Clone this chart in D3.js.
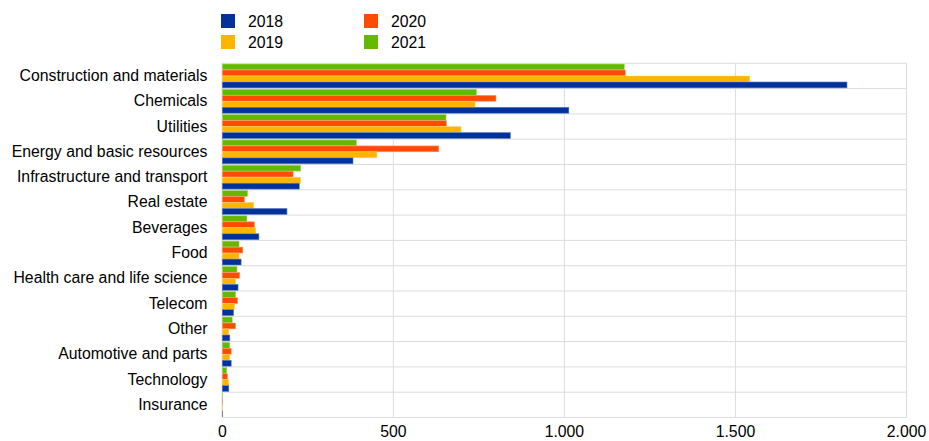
<!DOCTYPE html>
<html><head><meta charset="utf-8">
<script src="https://cdn.jsdelivr.net/npm/d3@7"></script>
<style>body{margin:0;background:#fff}svg{display:block}text{font-family:Arial,"Liberation Sans",sans-serif;fill:#000}</style>
</head><body><svg id="c" width="929" height="441"></svg>
<script>
const categories = ["Construction and materials","Chemicals","Utilities","Energy and basic resources","Infrastructure and transport","Real estate","Beverages","Food ","Health care and life science","Telecom","Other","Automotive and parts","Technology","Insurance"];
const seriesNames = ["2021","2020","2019","2018"];
const v2018 = [1826,1013,842,382,225,189,107,55,46,33,22,26,19,1];
const v2019 = [1542,739,698,452,229,92,98,49,39,36,19,22,19,1];
const v2020 = [1178,800,655,633,207,65,94,60,51,45,39,26,15,1];
const v2021 = [1175,743,654,392,229,74,72,49,43,39,29,22,13,1];
const xTicks = [0,500,1000,1500,2000];
const legendOrder = ["2018","2019","2020","2021"];
const colors = {"2018":"#003299","2019":"#FFB400","2020":"#FF4B00","2021":"#65B800"};
const strokes = {"2018":"#5a7bc4","2019":"#ffd36b","2020":"#ff9a70","2021":"#a8d96a"};
const valuesBy = {"2018":v2018,"2019":v2019,"2020":v2020,"2021":v2021};

const svg = d3.select("#c");
const m = {l:222.3, r:906.5, t:63.3, b:417.5};
const x = d3.scaleLinear().domain([0,2000]).range([m.l,m.r]);
const y = d3.scaleBand().domain(categories).range([m.t,m.b]).paddingInner(0).paddingOuter(0);
const yi = d3.scaleBand().domain(seriesNames).range([0,y.bandwidth()]).paddingOuter(0.12).paddingInner(0.02);

const fmt = v => d3.format(",")(v).replace(/,/g,".");

const g = svg.append("g");
g.selectAll("line.v").data(xTicks).join("line")
  .attr("x1",d=>x(d)).attr("x2",d=>x(d)).attr("y1",m.t).attr("y2",m.b)
  .attr("stroke","#dcdcdc").attr("stroke-width",1);
const bounds = categories.map(c=>y(c)).concat([m.b]);
g.selectAll("line.h").data(bounds).join("line")
  .attr("x1",m.l).attr("x2",m.r).attr("y1",d=>d).attr("y2",d=>d)
  .attr("stroke","#dcdcdc").attr("stroke-width",1);
g.append("line").attr("x1",m.l).attr("x2",m.l).attr("y1",m.t).attr("y2",m.b).attr("stroke","#cfcfcf");

seriesNames.forEach(s=>{
  svg.append("g").selectAll("rect").data(categories).join("rect")
    .attr("x",x(0))
    .attr("y",(c)=>y(c)+yi(s))
    .attr("height",yi.bandwidth())
    .attr("width",(c,i)=>Math.max(0,x(valuesBy[s][i])-x(0)))
    .attr("fill",colors[s]).attr("stroke",strokes[s]).attr("stroke-width",0.6);
});

svg.append("g").selectAll("text").data(categories).join("text")
  .attr("x",207.5).attr("y",c=>y(c)+y.bandwidth()/2-0.5)
  .attr("dy","0.35em").attr("text-anchor","end").attr("font-size","15.8px").text(d=>d);

svg.append("g").selectAll("text").data(xTicks).join("text")
  .attr("x",d=>x(d)).attr("y",437.3).attr("text-anchor","middle")
  .attr("font-size","15.8px").text(fmt);

const lg = svg.append("g");
legendOrder.forEach((s,i)=>{
  const col = Math.floor(i/2), row = i%2;
  const lx = 221 + col*143, ly = 14 + row*21;
  lg.append("rect").attr("x",lx).attr("y",ly).attr("width",14).attr("height",14).attr("fill",colors[s]);
  lg.append("text").attr("x",lx+27).attr("y",ly+7).attr("dy","0.35em").attr("font-size","15.8px").text(s);
});
</script></body></html>
